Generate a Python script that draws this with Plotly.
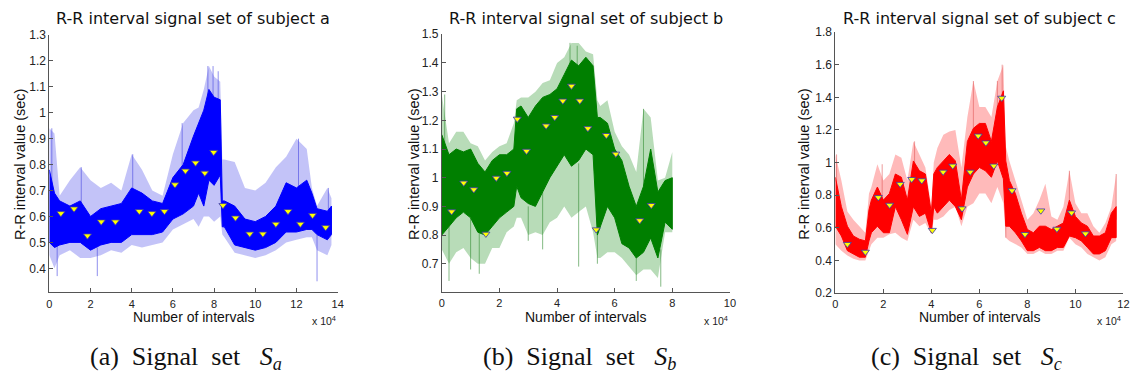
import plotly.graph_objects as go

W, H = 1140, 392

# ---------------- Subject a ----------------
a_x = [0, 0.25, 0.5, 1.0, 1.5, 2.0, 2.5, 3.0, 3.5, 4.0, 4.5, 5.0, 5.5, 6.0, 6.5, 7.0, 7.25, 7.5,
       7.75, 8.0, 8.3, 8.4, 8.5, 9.0, 9.5, 10.0, 10.5, 11.0, 11.5, 12.0, 12.5, 12.75, 13.0, 13.5, 13.7]
a_core_hi = [0.78, 0.69, 0.66, 0.64, 0.66, 0.60, 0.63, 0.64, 0.65, 0.71, 0.69, 0.66, 0.65, 0.75, 0.80, 0.91, 0.96, 1.01,
             1.09, 1.06, 1.05, 0.66, 0.66, 0.64, 0.59, 0.58, 0.60, 0.64, 0.73, 0.71, 0.74, 0.69, 0.63, 0.62, 0.64]
a_core_lo = [0.50, 0.48, 0.49, 0.50, 0.50, 0.47, 0.49, 0.50, 0.50, 0.53, 0.53, 0.53, 0.54, 0.59, 0.61, 0.64, 0.69, 0.64,
             0.74, 0.72, 0.76, 0.56, 0.56, 0.49, 0.48, 0.47, 0.48, 0.50, 0.54, 0.54, 0.55, 0.55, 0.53, 0.51, 0.53]
a_spk_hi = [0.94, 0.92, 0.68, 0.74, 0.79, 0.74, 0.71, 0.73, 0.70, 0.84, 0.78, 0.70, 0.68, 0.84, 0.96, 1.01, 1.02, 1.09,
            1.18, 1.14, 1.12, 0.82, 0.82, 0.81, 0.71, 0.70, 0.73, 0.79, 0.83, 0.90, 0.86, 0.71, 0.64, 0.71, 0.67]
a_spk_lo = [0.45, 0.40, 0.45, 0.47, 0.44, 0.44, 0.45, 0.47, 0.46, 0.49, 0.48, 0.49, 0.50, 0.55, 0.57, 0.59, 0.56, 0.60,
            0.60, 0.58, 0.60, 0.53, 0.52, 0.46, 0.45, 0.44, 0.45, 0.47, 0.50, 0.51, 0.52, 0.52, 0.47, 0.45, 0.49]
a_out_x = [0.12, 0.38, 1.55, 2.33, 4.05, 6.45, 7.7, 7.95, 8.2, 12.1, 13.0, 13.55]
a_out_from = [0.70, 0.50, 0.62, 0.48, 0.68, 0.78, 1.00, 1.00, 1.00, 0.68, 0.55, 0.60]
a_out_to = [0.94, 0.37, 0.79, 0.37, 0.84, 0.96, 1.18, 1.18, 1.16, 0.90, 0.35, 0.71]
a_mk_x = [0.56, 1.20, 1.85, 2.52, 3.21, 4.37, 4.98, 5.59, 6.10, 6.61, 7.10, 7.55, 7.98, 8.43, 9.04,
          9.73, 10.37, 11.0, 11.59, 12.19, 12.78, 13.42]
a_mk_y = [0.612, 0.630, 0.526, 0.580, 0.580, 0.620, 0.612, 0.620, 0.723, 0.776, 0.807, 0.768, 0.848, 0.643, 0.595,
          0.533, 0.533, 0.571, 0.620, 0.571, 0.605, 0.558]

# ---------------- Subject b ----------------
b_x = [0, 0.25, 0.5, 0.75, 1.0, 1.25, 1.5, 1.75, 2.0, 2.25, 2.5, 2.6, 2.75, 3.0, 3.25, 3.5, 3.75, 4.0, 4.25,
       4.5, 4.75, 5.0, 5.25, 5.4, 5.5, 5.75, 6.0, 6.25, 6.5, 6.75, 7.0, 7.25, 7.5, 7.75, 8.0]
b_core_hi = [1.15, 1.08, 1.10, 1.09, 1.10, 1.05, 1.02, 1.06, 1.08, 1.08, 1.10, 1.24, 1.25, 1.21, 1.25, 1.28, 1.29, 1.31, 1.36,
             1.41, 1.39, 1.42, 1.39, 1.21, 1.21, 1.19, 1.10, 1.06, 0.97, 0.90, 0.97, 1.10, 0.95, 0.99, 1.00]
b_core_lo = [0.80, 0.83, 0.86, 0.88, 0.86, 0.81, 0.80, 0.83, 0.86, 0.88, 0.90, 0.97, 0.93, 0.91, 0.90, 0.95, 1.00, 1.04, 1.08,
             1.04, 1.06, 1.10, 1.08, 0.80, 0.83, 0.90, 0.86, 0.77, 0.755, 0.72, 0.74, 0.79, 0.72, 0.845, 0.82]
b_spk_hi = [1.29, 1.12, 1.16, 1.16, 1.12, 1.11, 1.06, 1.09, 1.11, 1.12, 1.19, 1.27, 1.28, 1.28, 1.30, 1.33, 1.34, 1.40, 1.42,
            1.47, 1.47, 1.44, 1.43, 1.27, 1.25, 1.27, 1.16, 1.11, 1.08, 1.02, 1.24, 1.21, 0.99, 1.00, 1.09]
b_spk_lo = [0.75, 0.70, 0.74, 0.755, 0.72, 0.70, 0.70, 0.755, 0.755, 0.81, 0.83, 0.86, 0.86, 0.80, 0.81, 0.80, 0.845, 0.86, 0.90,
            0.86, 0.88, 0.90, 0.81, 0.72, 0.72, 0.74, 0.74, 0.72, 0.69, 0.66, 0.68, 0.68, 0.65, 0.81, 0.81]
b_out_x = [0.1, 0.25, 1.0, 3.5, 4.45, 4.7, 4.75, 5.4, 7.0, 7.6, 6.75, 1.3, 3.0]
b_out_from = [1.00, 0.85, 0.86, 0.95, 1.30, 1.30, 1.05, 1.00, 0.95, 0.75, 0.75, 0.82, 0.90]
b_out_to = [1.29, 0.64, 0.68, 0.75, 1.47, 1.46, 0.69, 0.70, 1.24, 0.62, 0.64, 0.665, 0.78]
b_mk_x = [0.34, 0.76, 1.11, 1.53, 1.89, 2.26, 2.62, 2.94, 3.62, 3.92, 4.20, 4.50, 4.79, 5.07, 5.36,
          5.71, 6.04, 6.87, 7.27]
b_mk_y = [0.882, 0.982, 0.959, 0.804, 0.999, 1.016, 1.205, 1.093, 1.181, 1.211, 1.268, 1.320, 1.268, 1.172, 0.819,
          1.148, 1.083, 0.851, 0.904]

# ---------------- Subject c ----------------
c_x = [0, 0.25, 0.5, 0.75, 1.0, 1.25, 1.4, 1.5, 1.75, 2.0, 2.25, 2.5, 2.75, 3.0, 3.25, 3.5, 3.75, 4.0, 4.1,
       4.25, 4.5, 4.75, 5.0, 5.25, 5.5, 5.75, 6.0, 6.25, 6.5, 6.75, 7.0, 7.1, 7.25, 7.5, 7.75, 8.0, 8.25,
       8.5, 8.75, 9.0, 9.25, 9.5, 9.75, 10.0, 10.25, 10.5, 10.75, 11.0, 11.25, 11.5, 11.7]
c_core_hi = [0.91, 0.73, 0.61, 0.55, 0.53, 0.52, 0.71, 0.77, 0.85, 0.77, 0.81, 0.93, 0.91, 0.77, 1.01, 0.95, 0.93, 0.69, 0.93,
             0.97, 1.01, 1.05, 1.01, 0.77, 1.13, 1.21, 1.24, 1.24, 1.13, 1.34, 1.44, 1.01, 0.89, 0.81, 0.69, 0.59, 0.57,
             0.61, 0.61, 0.59, 0.61, 0.63, 0.77, 0.67, 0.63, 0.61, 0.55, 0.55, 0.57, 0.69, 0.73]
c_core_lo = [0.61, 0.55, 0.46, 0.44, 0.42, 0.42, 0.52, 0.57, 0.61, 0.57, 0.57, 0.73, 0.65, 0.56, 0.73, 0.67, 0.69, 0.57, 0.73,
             0.69, 0.73, 0.77, 0.73, 0.65, 0.85, 0.93, 0.97, 0.95, 0.91, 1.01, 0.90, 0.61, 0.61, 0.57, 0.52, 0.46, 0.46,
             0.48, 0.46, 0.46, 0.48, 0.48, 0.55, 0.54, 0.52, 0.48, 0.44, 0.44, 0.46, 0.54, 0.54]
c_spk_hi = [1.05, 0.89, 0.70, 0.65, 0.61, 0.57, 0.81, 0.85, 0.99, 0.89, 0.93, 1.05, 1.03, 0.89, 1.13, 1.05, 0.97, 0.73, 1.00,
            1.09, 1.17, 1.19, 1.20, 0.97, 1.28, 1.50, 1.34, 1.34, 1.28, 1.50, 1.60, 1.10, 1.01, 0.89, 0.77, 0.65, 0.69,
            0.77, 0.87, 0.67, 0.65, 0.73, 0.95, 0.75, 0.69, 0.69, 0.61, 0.57, 0.63, 0.73, 0.93]
c_spk_lo = [0.50, 0.46, 0.43, 0.41, 0.40, 0.40, 0.46, 0.50, 0.54, 0.54, 0.56, 0.57, 0.54, 0.52, 0.65, 0.61, 0.63, 0.56, 0.65,
            0.65, 0.67, 0.71, 0.73, 0.61, 0.73, 0.75, 0.81, 0.81, 0.75, 0.85, 0.75, 0.54, 0.52, 0.50, 0.48, 0.44, 0.44,
            0.46, 0.44, 0.44, 0.46, 0.46, 0.54, 0.50, 0.48, 0.44, 0.42, 0.40, 0.42, 0.50, 0.52]
c_out_x = [0.05, 5.75, 6.75, 6.95, 9.75, 11.7, 7.1, 1.95, 3.3]
c_out_from = [0.80, 1.10, 1.20, 1.30, 0.70, 0.65, 0.80, 0.70, 0.90]
c_out_to = [1.05, 1.50, 1.50, 1.60, 0.95, 0.93, 0.54, 0.99, 1.13]
c_mk_x = [0.50, 1.25, 1.79, 2.26, 2.70, 3.18, 3.60, 4.04, 4.49, 4.89, 5.28, 5.62, 5.95, 6.27, 6.60,
          6.93, 7.36, 7.90, 8.56, 9.23, 9.84, 10.42]
c_mk_y = [0.500, 0.452, 0.787, 0.740, 0.868, 0.898, 0.890, 0.586, 0.943, 0.980, 0.718, 0.943, 1.164, 1.122, 0.980,
          1.396, 0.829, 0.561, 0.705, 0.593, 0.693, 0.565]

# ---------------- ticks / labels ----------------
a_xticks = [0, 2, 4, 6, 8, 10, 12, 14]
a_xlabels = ["0", "2", "4", "6", "8", "10", "12", "14"]
a_yticks = [0.4, 0.5, 0.6, 0.7, 0.8, 0.9, 1.0, 1.1, 1.2, 1.3]
a_ylabels = ["0.4", "0.5", "0.6", "0.7", "0.8", "0.9", "1", "1.1", "1.2", "1.3"]
b_xticks = [0, 2, 4, 6, 8, 10]
b_xlabels = ["0", "2", "4", "6", "8", "10"]
b_yticks = [0.7, 0.8, 0.9, 1.0, 1.1, 1.2, 1.3, 1.4, 1.5]
b_ylabels = ["0.7", "0.8", "0.9", "1", "1.1", "1.2", "1.3", "1.4", "1.5"]
c_xticks = [0, 2, 4, 6, 8, 10, 12]
c_xlabels = ["0", "2", "4", "6", "8", "10", "12"]
c_yticks = [0.2, 0.4, 0.6, 0.8, 1.0, 1.2, 1.4, 1.6, 1.8]
c_ylabels = ["0.2", "0.4", "0.6", "0.8", "1", "1.2", "1.4", "1.6", "1.8"]

titles = ["R-R interval signal set of subject a", "R-R interval signal set of subject b",
          "R-R interval signal set of subject c"]
ylabel = "R-R interval value (sec)"
xlabel = "Number of intervals"
captions = [("(a)", "a"), ("(b)", "b"), ("(c)", "c")]

# ---------------- layout geometry (pixels) ----------------
panels = [
    dict(x=a_x, chi=a_core_hi, clo=a_core_lo, shi=a_spk_hi, slo=a_spk_lo,
         ox=a_out_x, of=a_out_from, ot=a_out_to, mx=a_mk_x, my=a_mk_y,
         xt=a_xticks, xl=a_xlabels, yt=a_yticks, yl=a_ylabels,
         xr=[0, 14], yr=[0.307, 1.3], px=(46.7, 337.3), py=(29, 296),
         core="#0000FF", halo="rgba(40,40,230,0.28)", out="rgba(70,70,225,0.6)",
         ylab_x=17, cap_x=184),
    dict(x=b_x, chi=b_core_hi, clo=b_core_lo, shi=b_spk_hi, slo=b_spk_lo,
         ox=b_out_x, of=b_out_from, ot=b_out_to, mx=b_mk_x, my=b_mk_y,
         xt=b_xticks, xl=b_xlabels, yt=b_yticks, yl=b_ylabels,
         xr=[0, 10], yr=[0.601, 1.5], px=(442.3, 732.7), py=(28.3, 295.7),
         core="#007F00", halo="rgba(0,128,0,0.28)", out="rgba(50,140,50,0.6)",
         ylab_x=414, cap_x=581),
    dict(x=c_x, chi=c_core_hi, clo=c_core_lo, shi=c_spk_hi, slo=c_spk_lo,
         ox=c_out_x, of=c_out_from, ot=c_out_to, mx=c_mk_x, my=c_mk_y,
         xt=c_xticks, xl=c_xlabels, yt=c_yticks, yl=c_ylabels,
         xr=[0, 12], yr=[0.2, 1.8], px=(839, 1129.3), py=(26, 296.7),
         core="#FF0000", halo="rgba(255,0,0,0.27)", out="rgba(225,90,90,0.6)",
         ylab_x=808, cap_x=971),
]

def fx(p):
    return p / W

def fy(p):
    return 1 - p / H

fig = go.Figure()
annotations = []
layout_axes = {}
for i, p in enumerate(panels):
    n = "" if i == 0 else str(i + 1)
    xa, ya = "x" + n, "y" + n
    # spike halo
    fig.add_trace(go.Scatter(x=p["x"] + p["x"][::-1], y=p["shi"] + p["slo"][::-1],
                             fill="toself", fillcolor=p["halo"], mode="lines",
                             line=dict(width=0), xaxis=xa, yaxis=ya,
                             hoverinfo="skip"))
    # individual tall spikes
    sx, sy = [], []
    for xx, f0, t0 in zip(p["ox"], p["of"], p["ot"]):
        sx += [xx, xx, None]
        sy += [f0, t0, None]
    fig.add_trace(go.Scatter(x=sx, y=sy, mode="lines", line=dict(width=1, color=p["out"]),
                             xaxis=xa, yaxis=ya, hoverinfo="skip"))
    # dense core
    fig.add_trace(go.Scatter(x=p["x"] + p["x"][::-1], y=p["chi"] + p["clo"][::-1],
                             fill="toself", fillcolor=p["core"], mode="lines",
                             line=dict(width=1, color=p["core"]), xaxis=xa, yaxis=ya,
                             hoverinfo="skip"))
    # markers
    fig.add_trace(go.Scatter(x=p["mx"], y=p["my"], mode="markers",
                             marker=dict(symbol="triangle-down", size=7, color="#FFFF00",
                                         line=dict(color="#3535b5", width=0.8)),
                             xaxis=xa, yaxis=ya))
    common = dict(showgrid=False, zeroline=False, showline=True, linecolor="#555555",
                  linewidth=1, ticks="inside", ticklen=4, tickcolor="#555555", mirror=False)
    layout_axes["xaxis" + n] = dict(common, domain=[fx(p["px"][0]), fx(p["px"][1])], range=p["xr"],
                                    tickvals=p["xt"], ticktext=p["xl"], anchor=ya, ticklabelstandoff=1,
                                    tickfont=dict(family="Liberation Sans, Arial", size=11, color="#222"))
    layout_axes["yaxis" + n] = dict(common, domain=[fy(p["py"][1]), fy(p["py"][0])], range=p["yr"],
                                    tickvals=p["yt"], ticktext=p["yl"], anchor=xa,
                                    tickfont=dict(family="Liberation Sans, Arial", size=12, color="#222"))
    cx = (p["px"][0] + p["px"][1]) / 2
    annotations.append(dict(text=titles[i], x=fx(cx), y=fy(12), xref="paper", yref="paper",
                            showarrow=False, xanchor="center", yanchor="middle",
                            font=dict(family="DejaVu Sans", size=16, color="#111")))
    annotations.append(dict(text=ylabel, x=fx(p["ylab_x"]), y=fy(163), xref="paper", yref="paper",
                            showarrow=False, xanchor="center", yanchor="middle", textangle=-90,
                            font=dict(family="Liberation Sans, Arial", size=14.5, color="#111")))
    annotations.append(dict(text=xlabel, x=fx(cx), y=fy(321), xref="paper", yref="paper",
                            showarrow=False, xanchor="center", yanchor="middle",
                            font=dict(family="Liberation Sans, Arial", size=14, color="#111")))
    annotations.append(dict(text="x 10<sup>4</sup>", x=fx(p["px"][1]), y=fy(325), xref="paper", yref="paper",
                            showarrow=False, xanchor="right", yanchor="middle",
                            font=dict(family="Liberation Sans, Arial", size=10.5, color="#222")))
    lab, sub = captions[i]
    annotations.append(dict(text=lab + "\u00a0\u00a0Signal\u00a0\u00a0set\u00a0\u00a0\u00a0<i>S</i><sub><i>" + sub + "</i></sub>",
                            x=fx(p["cap_x"]), y=fy(364), xref="paper", yref="paper",
                            showarrow=False, xanchor="center", yanchor="middle",
                            font=dict(family="Liberation Serif, Times New Roman", size=26, color="#111")))

fig.update_layout(width=W, height=H, margin=dict(l=0, r=0, t=0, b=0),
                  paper_bgcolor="white", plot_bgcolor="white", showlegend=False,
                  annotations=annotations, **layout_axes)
fig.write_html("out.html")
